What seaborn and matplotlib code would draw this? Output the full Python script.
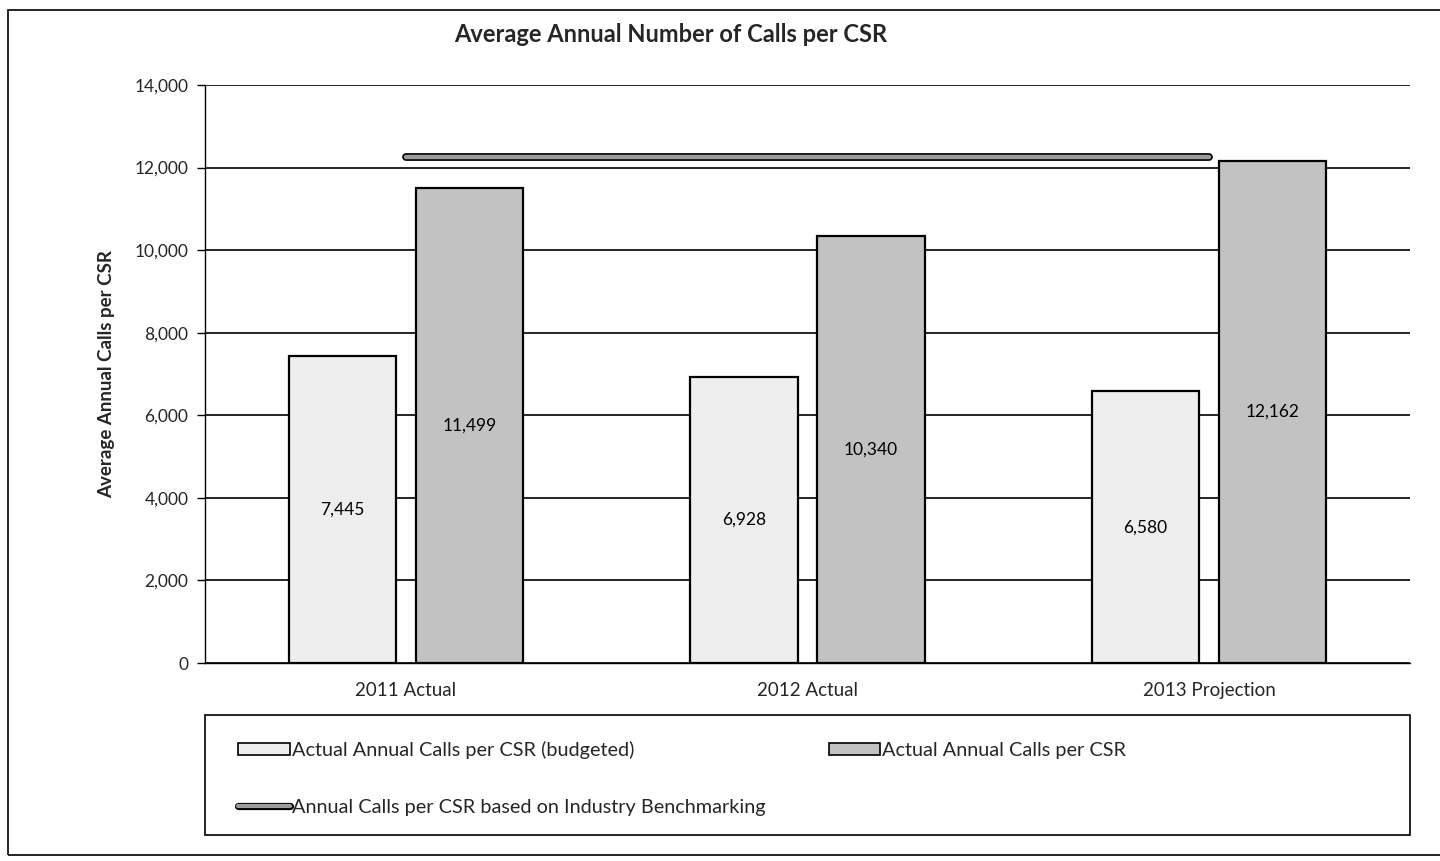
import numpy as np
import pandas as pd
import matplotlib
matplotlib.use("Agg")
import matplotlib.pyplot as plt
import matplotlib.patheffects as pe
from matplotlib.patches import Rectangle, Patch
from matplotlib.lines import Line2D
import seaborn as sns

categories = ["2011 Actual", "2012 Actual", "2013 Projection"]
budgeted = [7445, 6928, 6580]
actual = [11499, 10340, 12162]
benchmark = [12250, 12250, 12250]
series_names = ["Actual Annual Calls per CSR (budgeted)", "Actual Annual Calls per CSR"]
line_name = "Annual Calls per CSR based on Industry Benchmarking"
yticks = [0, 2000, 4000, 6000, 8000, 10000, 12000, 14000]

sns.set_theme(style="white")
plt.rcParams["font.family"] = ["Lato", "DejaVu Sans"]

df = pd.DataFrame({
    "Category": categories * 2,
    "Series": [series_names[0]] * 3 + [series_names[1]] * 3,
    "Value": budgeted + actual,
})

fig = plt.figure(figsize=(14.4, 8.61), dpi=100)
ax = fig.add_axes([205/1440, 1-663/861, (1410-205)/1440, (663-85)/861])

colors = ["#eeeeee", "#c2c2c2"]
line_color = "#9c9c9c"
sns.barplot(data=df, x="Category", y="Value", hue="Series", order=categories,
            hue_order=series_names, palette=colors, width=0.634, gap=0.157,
            edgecolor="black", linewidth=1.6, ax=ax, legend=False, zorder=3)

for cont in ax.containers:
    ax.bar_label(cont, labels=[f"{v:,.0f}" for v in cont.datavalues],
                 label_type="center", fontsize=12.5, color="black", zorder=5)

sns.lineplot(x=np.arange(len(categories)), y=benchmark, ax=ax, color=line_color,
             linewidth=3.2, zorder=4, legend=False,
             path_effects=[pe.Stroke(linewidth=5.6, foreground="black"), pe.Normal()])
for ln in ax.lines:
    ln.set_solid_capstyle("round")

ax.set_xlim(-0.5, 2.5)
ax.set_ylim(0, 14000)
ax.set_yticks(yticks)
ax.set_yticklabels([f"{v:,}" for v in yticks], fontsize=12.5)
ax.yaxis.grid(True, color="black", linewidth=1.2, zorder=0)
ax.set_axisbelow(True)
ax.set_xticks(range(len(categories)))
ax.set_xticklabels(categories, fontsize=13.5)
ax.set_xticks([-0.5, 0.5, 1.5, 2.5], minor=True)
ax.tick_params(axis="x", which="major", length=0, pad=14)
ax.tick_params(axis="x", which="minor", length=6, width=1, color="black", direction="out")
ax.tick_params(axis="y", length=6, width=1, color="black", direction="out", left=True, pad=6)
ax.set_xlabel("")
ax.set_ylabel("Average Annual Calls per CSR", fontsize=13.5, fontweight="bold", labelpad=14)
for side in ["top", "right"]:
    ax.spines[side].set_visible(False)
ax.spines["left"].set_color("black")
ax.spines["bottom"].set_color("black")
ax.spines["left"].set_linewidth(1)
ax.spines["bottom"].set_linewidth(1)

fig.text(671/1440, 1-35/861, "Average Annual Number of Calls per CSR",
         ha="center", va="center", fontsize=17, fontweight="bold")

# outer border
fig.patches.append(Rectangle((8/1440, 1-855/861), 1.0, (855-10)/861,
                             transform=fig.transFigure, fill=False,
                             edgecolor="black", linewidth=1.2))
# legend frame
fig.patches.append(Rectangle((205/1440, 1-835/861), (1410-205)/1440, (835-715)/861,
                             transform=fig.transFigure, fill=False,
                             edgecolor="black", linewidth=1.2))

handles = [Patch(facecolor=colors[0], edgecolor="black", linewidth=1.2),
           Line2D([0], [0], color=line_color, linewidth=3,
                  path_effects=[pe.Stroke(linewidth=5.2, foreground="black"), pe.Normal()]),
           Patch(facecolor=colors[1], edgecolor="black", linewidth=1.2)]
labels = [series_names[0], line_name, series_names[1]]
leg = fig.legend(handles, labels, ncol=2, loc="upper left",
                 bbox_to_anchor=(238/1440, 1-741/861),
                 frameon=False, fontsize=14.3,
                 handlelength=2.6, handleheight=0.6, handletextpad=0.1,
                 labelspacing=2.0, columnspacing=3.2, borderpad=0, borderaxespad=0)

fig.savefig("out.png", dpi=100)
